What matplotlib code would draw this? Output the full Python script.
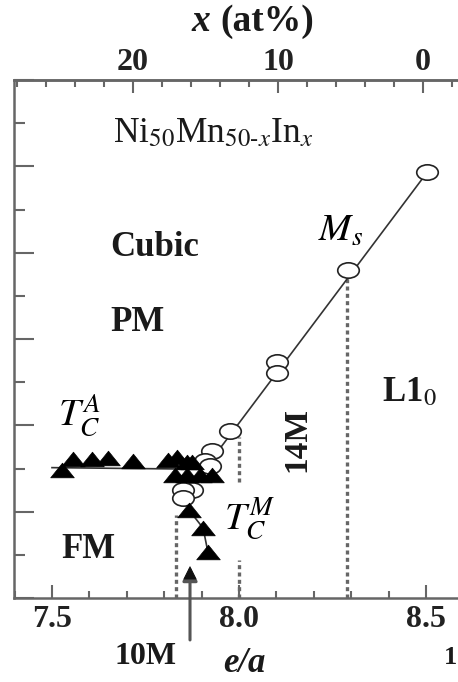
import numpy as np
import matplotlib
matplotlib.use("Agg")
import matplotlib.pyplot as plt
from matplotlib.path import Path
from matplotlib.transforms import Affine2D
from matplotlib.ticker import MultipleLocator, FixedLocator, FixedFormatter

plt.rcParams['font.family'] = ['Liberation Serif', 'DejaVu Serif']
plt.rcParams['mathtext.fontset'] = 'stix'

# ---------------- data ----------------
# martensite start (open circles): e/a and temperature (K)
ms_ea = [8.503, 8.291, 8.102, 8.102, 7.976, 7.928, 7.909, 7.922, 7.874, 7.850, 7.850]
ms_T = [593, 480, 373, 361, 293, 270, 259, 253, 225, 225, 216]
ms_fit_ea = [7.850, 8.503]
ms_fit_T = [216, 593]

# Curie temperature of austenite (filled triangles)
tca_ea = [7.527, 7.556, 7.607, 7.650, 7.717, 7.810, 7.834, 7.861, 7.874,
          7.829, 7.861, 7.896, 7.928]
tca_T = [248, 261, 261, 262, 259, 260, 263, 258, 258, 242, 242, 242, 242]
tca_fit_ea = [7.50, 7.93]
tca_fit_T = [251, 249]

# Curie temperature of martensite
tcm_ea = [7.866, 7.904, 7.917]
tcm_T = [202, 181, 153]
tcm_fit_ea = [7.835, 7.866, 7.904, 7.917]
tcm_fit_T = [240, 202, 181, 153]

# dotted phase boundaries (e/a, T_top, T_bottom)
bound_ea = [7.832, 8.0, 8.0, 8.29]
bound_top = [196, 286, 144, 472]
bound_bot = [100, 234, 100, 100]

# axis ticks
ea_major = [7.5, 8.0, 8.5]
ea_labels = ['7.5', '8.0', '8.5']
at_major = [20, 10, 0]
at_minor = list(range(-2, 30, 2))
arrow_ea = 7.869


def ea_of_at(x):
    return 8.492 - 0.03877 * x


# ---------------- figure ----------------
W, H = 458, 682
fig = plt.figure(figsize=(W / 100, H / 100), dpi=100)
x0, x1 = 7.3984, 8.65
ax = fig.add_axes([14 / W, (H - 598) / H, (x1 - x0) * 374 / W, 518 / H])
ax.set_xlim(x0, x1)
ax.set_ylim(100, 700)

sc = '#666666'
for s in ax.spines.values():
    s.set_color(sc)
    s.set_linewidth(1.8)

ax.xaxis.set_major_locator(FixedLocator(ea_major))
ax.xaxis.set_major_formatter(FixedFormatter(ea_labels))
ax.xaxis.set_minor_locator(MultipleLocator(0.1))
ax.yaxis.set_major_locator(MultipleLocator(100))
ax.yaxis.set_minor_locator(MultipleLocator(50))
ax.tick_params(axis='x', which='major', direction='in', length=9.4, width=1.5,
               color=sc, labelsize=23, pad=5, top=False)
ax.tick_params(axis='x', which='minor', direction='in', length=5, width=1.5,
               color=sc, top=False)
ax.tick_params(axis='y', which='major', direction='in', length=14.4, width=1.5,
               color=sc, labelleft=False, right=False)
ax.tick_params(axis='y', which='minor', direction='in', length=8, width=1.5,
               color=sc, right=False)
for lab in ax.get_xticklabels():
    lab.set_fontweight('bold')
    lab.set_color('#222222')

ax2 = ax.twiny()
ax2.set_xlim(x0, x1)
ax2.set_xticks([ea_of_at(v) for v in at_major])
ax2.set_xticklabels([str(v) for v in at_major], fontweight='bold', color='#222222')
ax2.xaxis.set_minor_locator(FixedLocator([ea_of_at(v) for v in at_minor]))
ax2.tick_params(axis='x', which='major', direction='in', length=9.4, width=1.5,
                color=sc, labelsize=23, pad=2)
ax2.tick_params(axis='x', which='minor', direction='in', length=5, width=1.5,
                color=sc)
for k in ['left', 'right', 'bottom']:
    ax2.spines[k].set_visible(False)
ax2.spines['top'].set_color(sc)
ax2.spines['top'].set_linewidth(1.8)

# markers
ell = Path.unit_circle().transformed(Affine2D().scale(1.4, 1.0))
tri = Path([(-1, -0.62), (1, -0.62), (0, 0.62), (-1, -0.62)],
           [Path.MOVETO, Path.LINETO, Path.LINETO, Path.CLOSEPOLY])

# dotted boundaries
for e, t, b in zip(bound_ea, bound_top, bound_bot):
    ax.plot([e, e], [b, t], color='#666666', lw=2.4, ls=(0, (1.2, 1.0)),
            zorder=1, clip_on=False)

ax.plot(ms_fit_ea, ms_fit_T, color='#333333', lw=1.2, zorder=2)
ax.plot(tca_fit_ea, tca_fit_T, color='#333333', lw=1.2, zorder=2)
ax.plot(tcm_fit_ea, tcm_fit_T, color='#333333', lw=1.2, zorder=2)

ax.plot(ms_ea, ms_T, ls='none', marker=ell, ms=15.5, mfc='white',
        mec='#222222', mew=1.2, zorder=3)
ax.plot(tca_ea, tca_T, ls='none', marker=tri, ms=17, mfc='black',
        mec='black', mew=0.5, zorder=4)
ax.plot(tcm_ea, tcm_T, ls='none', marker=tri, ms=17, mfc='black',
        mec='black', mew=0.5, zorder=4)

# arrow marking 10M
ax.annotate('', xy=(arrow_ea, 137), xytext=(arrow_ea, 51.4),
            arrowprops=dict(arrowstyle='-|>', color='#555555', lw=2.2,
                            mutation_scale=22, shrinkA=0, shrinkB=0),
            annotation_clip=False)
ax.annotate('', xy=(arrow_ea, 137), xytext=(arrow_ea, 125),
            arrowprops=dict(arrowstyle='-|>', color='#111111', lw=0.5,
                            mutation_scale=22, shrinkA=0, shrinkB=0),
            annotation_clip=False)


def ftext(px, py, s, **kw):
    return fig.text(px / W, 1 - py / H, s, **kw)


ftext(113, 142, r'Ni$_{50}$Mn$_{50\text{-}x}$In$_{x}$', fontsize=25.5,
      va='baseline', ha='left', color='#1a1a1a')
ftext(110, 256, 'Cubic', fontsize=25, fontweight='bold', va='baseline', color='#1a1a1a')
ftext(110, 331, 'PM', fontsize=25, fontweight='bold', va='baseline', color='#1a1a1a')
ftext(61, 558, 'FM', fontsize=25, fontweight='bold', va='baseline', color='#1a1a1a')
ftext(58, 426, r'$T_C^A$', fontsize=28, va='baseline')
ftext(224, 529, r'$T_C^M$', fontsize=28, va='baseline')
ftext(318, 241, r'$M_s$', fontsize=28, va='baseline')
ftext(382, 401, r'L1$_0$', fontsize=25, fontweight='bold', va='baseline', color='#1a1a1a')
ftext(297, 440, '14M', fontsize=24, fontweight='bold', rotation=90,
      ha='center', va='center', color='#1a1a1a')
ftext(115, 664, '10M', fontsize=23, fontweight='bold', va='baseline', color='#1a1a1a')
ftext(244, 672, 'e/a', fontsize=25, fontstyle='italic', fontweight='bold',
      ha='center', va='baseline', color='#1a1a1a')
ftext(201, 31, 'x', fontsize=27, fontstyle='italic', fontweight='bold',
      ha='center', va='baseline', color='#1a1a1a')
ftext(267, 31, '(at%)', fontsize=27, fontweight='bold',
      ha='center', va='baseline', color='#1a1a1a')
ftext(457, 664, '1', fontsize=19, fontweight='bold', va='baseline', ha='right',
      color='#1a1a1a')

fig.savefig('out.png', dpi=100)
